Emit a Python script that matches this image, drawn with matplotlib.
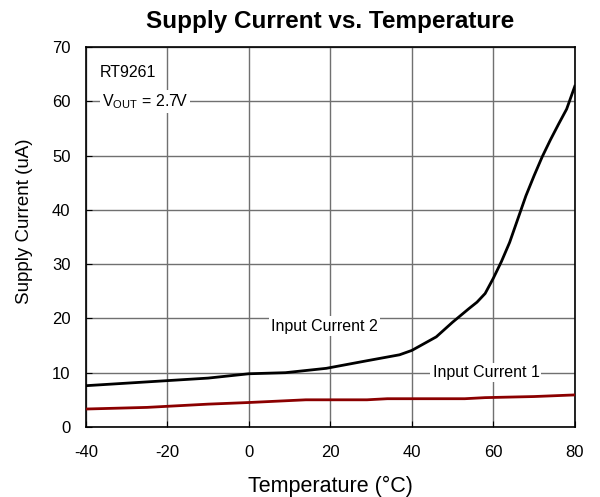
import matplotlib
matplotlib.use('Agg')
import matplotlib.pyplot as plt

plt.rcParams['font.family'] = ['Liberation Sans', 'DejaVu Sans']
plt.rcParams['mathtext.fontset'] = 'custom'
plt.rcParams['mathtext.rm'] = 'Liberation Sans'
plt.rcParams['axes.unicode_minus'] = False

# Input Current 2 (black)
temp2 = [-40, -25, -10, 0, 9, 19, 29, 37, 40, 46, 50, 54, 56, 58, 60, 62, 64, 66, 68, 70, 72, 74, 76, 78, 80]
curr2 = [7.6, 8.3, 9.0, 9.8, 10.0, 10.8, 12.2, 13.3, 14.1, 16.6, 19.3, 21.8, 23.0, 24.6, 27.4, 30.5, 34.0, 38.3, 42.6, 46.3, 49.8, 52.9, 55.8, 58.6, 62.8]

# Input Current 1 (dark red)
temp1 = [-40, -25, -10, 0, 14, 29, 34, 53, 58, 70, 80]
curr1 = [3.3, 3.6, 4.2, 4.5, 5.0, 5.0, 5.2, 5.2, 5.4, 5.6, 5.9]

fig = plt.figure(figsize=(6, 4.97), dpi=100)
ax = fig.add_axes([0.143, 0.141, 0.815, 0.764])

ax.plot(temp2, curr2, color='black', lw=2, zorder=3)
ax.plot(temp1, curr1, color='#8b0000', lw=2, zorder=3)

ax.set_xlim(-40, 80)
ax.set_ylim(0, 70)
ax.set_xticks(range(-40, 81, 20))
ax.set_yticks(range(0, 71, 10))
ax.grid(True, color='#707070', lw=1)
ax.tick_params(direction='in', length=4, labelsize=12)
ax.tick_params(axis='x', pad=13)
ax.tick_params(axis='y', pad=11)
for s in ax.spines.values():
    s.set_linewidth(1.2)

ax.set_title('Supply Current vs. Temperature', fontsize=17.5, fontweight='bold', pad=14)
ax.set_xlabel('Temperature (°C)', fontsize=15.5)
ax.set_ylabel('Supply Current (uA)', fontsize=13.5)
ax.xaxis.set_label_coords(0.5, -0.128)
ax.yaxis.set_label_coords(-0.108, 0.542)

box = dict(facecolor='white', edgecolor='none', pad=1.5)
ax.text(-36.6, 65.4, 'RT9261', fontsize=11.5, va='center', ha='left', bbox=box, zorder=4)
ax.text(-36.0, 60, r'V$_{\mathrm{OUT}}$ = 2.7V', fontsize=11.5, va='center', ha='left', bbox=box, zorder=4)
ax.text(18.6, 18.6, 'Input Current 2', fontsize=11.5, va='center', ha='center', bbox=box, zorder=4)
ax.text(58.2, 10.1, 'Input Current 1', fontsize=11.5, va='center', ha='center', bbox=box, zorder=4)

fig.savefig('out.png', dpi=100)
